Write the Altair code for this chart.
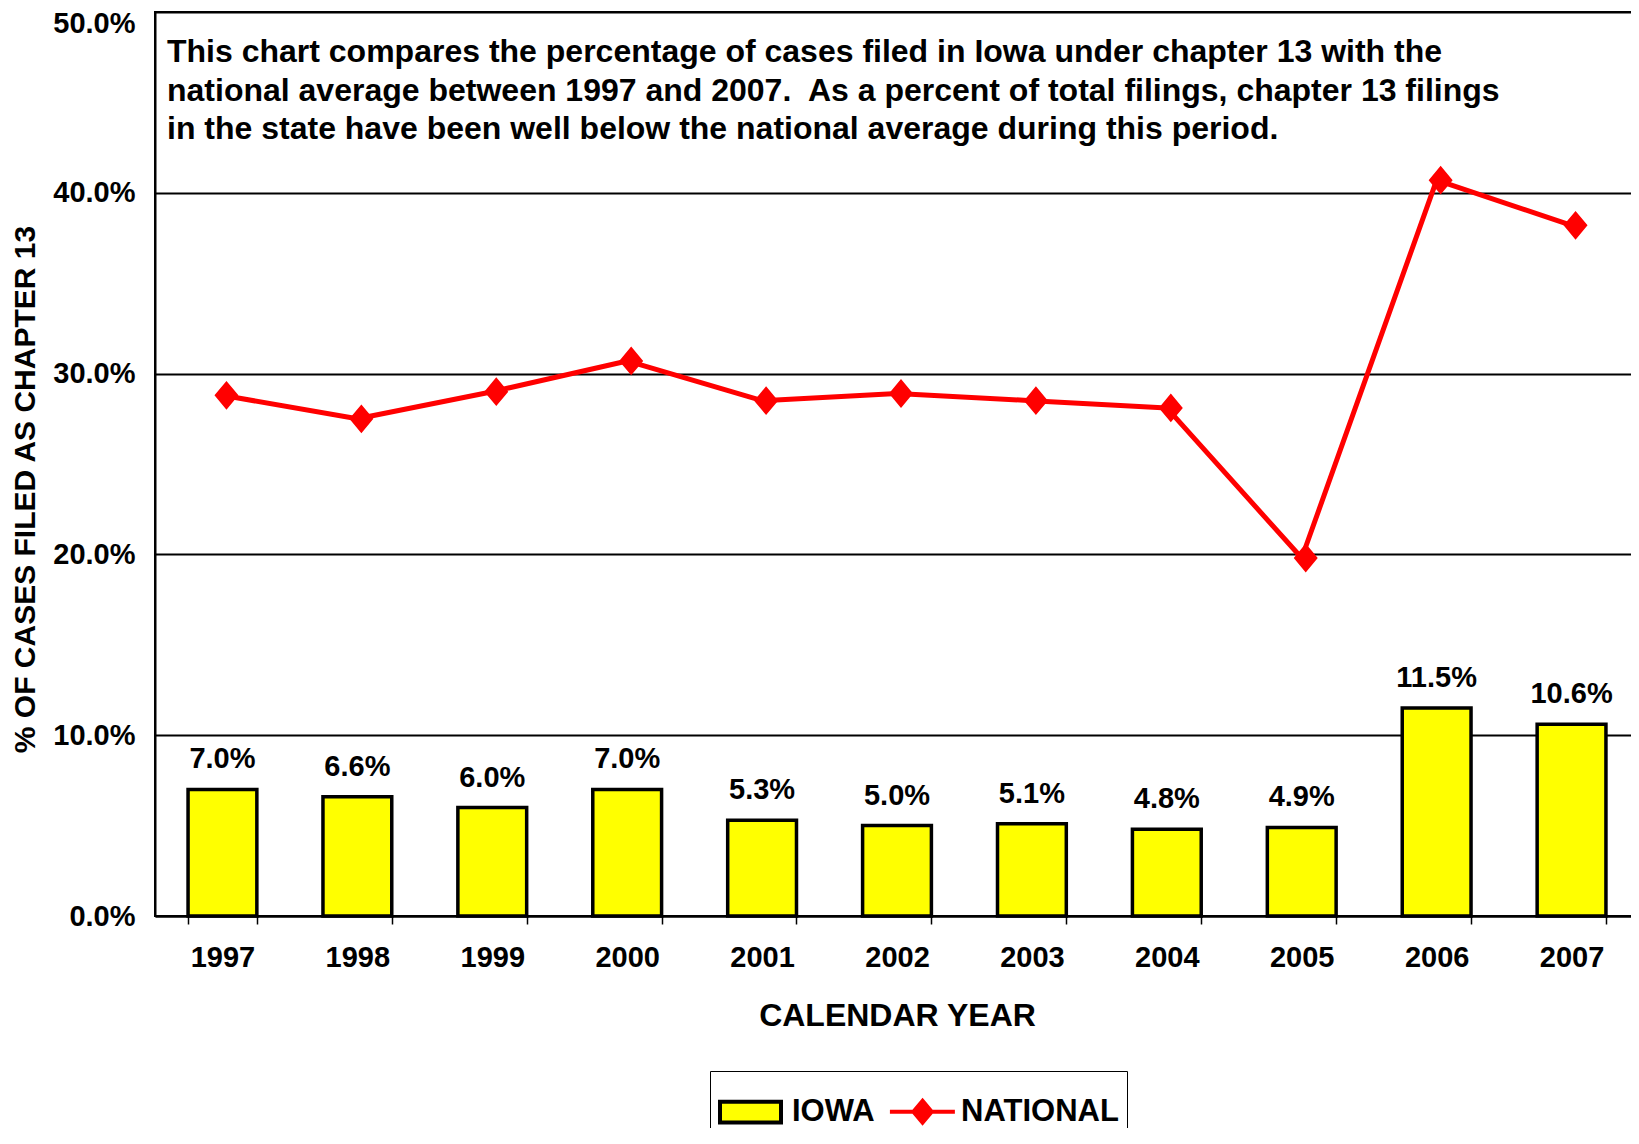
import altair as alt
import pandas as pd

YEARS = ["1997", "1998", "1999", "2000", "2001", "2002", "2003", "2004", "2005", "2006", "2007"]
IOWA = [7.0, 6.6, 6.0, 7.0, 5.3, 5.0, 5.1, 4.8, 4.9, 11.5, 10.6]
NATIONAL = [28.8, 27.5, 29.0, 30.7, 28.5, 28.9, 28.5, 28.1, 19.8, 40.7, 38.2]
SERIES = ["IOWA", "NATIONAL"]
FILL_COLORS = ["#FFFF00", "#FF0000"]
STROKE_COLORS = ["#000000", "#FF0000"]
SHAPES = ["M-1,-0.34H1V0.34H-1Z", "M-0.97,0H1.16M0.1,-0.36L0.4,0L0.1,0.36L-0.2,0Z"]
Y_TICKS = [0, 10, 20, 30, 40, 50]
NOTE_LINES = [
    "This chart compares the percentage of cases filed in Iowa under chapter 13 with the",
    "national average between 1997 and 2007.\u00a0 As a percent of total filings, chapter 13 filings",
    "in the state have been well below the national average during this period.",
]
X_TITLE = "CALENDAR YEAR"
Y_TITLE = "% OF CASES FILED AS CHAPTER 13"

FONT = "Liberation Sans"

rows = []
for yr, v in zip(YEARS, IOWA):
    rows.append({"year": yr, "series": "IOWA", "value": v})
for yr, v in zip(YEARS, NATIONAL):
    rows.append({"year": yr, "series": "NATIONAL", "value": v})
df = pd.DataFrame(rows)

x = alt.X(
    "year:N",
    sort=YEARS,
    scale=alt.Scale(paddingInner=0.49, paddingOuter=0.245),
    axis=alt.Axis(
        title=X_TITLE,
        labelAngle=0,
        tickBand="extent",
        tickSize=8,
        tickColor="black",
        tickWidth=1.5,
        domainColor="black",
        domainWidth=2,
        labelFontSize=29,
        labelPadding=19,
        titleFontSize=32,
        titlePadding=28,
    ),
)
y = alt.Y(
    "value:Q",
    scale=alt.Scale(domain=[0, 50], nice=False),
    axis=alt.Axis(
        values=Y_TICKS,
        labelExpr="format(datum.value, '.1f') + '%'",
        labelOffset=alt.condition("datum.value === 50", alt.value(11), alt.value(0)),
        grid=True,
        gridColor="black",
        gridWidth=2,
        ticks=False,
        domainColor="black",
        domainWidth=2,
        labelFontSize=29,
        labelPadding=20,
        title=Y_TITLE,
        titleFontSize=30,
        titleX=-130,
        titleY=477,
        titleBaseline="middle",
    ),
)

legend = alt.Legend(
    title=None,
    orient="none",
    legendX=555,
    legendY=1059,
    direction="horizontal",
    strokeColor="black",
    padding=8,
    labelFontSize=31,
    labelFont=FONT,
    labelFontWeight="bold",
    labelColor="black",
    labelOffset=9,
    labelLimit=400,
    columnPadding=6,
    symbolSize=3721,
    symbolStrokeWidth=4,
    symbolOpacity=1,
)

fill = alt.Fill("series:N", scale=alt.Scale(domain=SERIES, range=FILL_COLORS), legend=legend)
stroke = alt.Stroke("series:N", scale=alt.Scale(domain=SERIES, range=STROKE_COLORS), legend=legend)
shape = alt.Shape("series:N", scale=alt.Scale(domain=SERIES, range=SHAPES), legend=legend)

base = alt.Chart(df)

bars = base.transform_filter("datum.series === 'IOWA'").mark_bar(
    strokeWidth=3.5, opacity=1
).encode(x=x, y=y, fill=fill, stroke=stroke)

bar_labels = base.transform_filter("datum.series === 'IOWA'").transform_calculate(
    label="format(datum.value, '.1f') + '%'"
).mark_text(
    dy=-21, baseline="alphabetic", fontSize=29, fontWeight="bold", font=FONT, color="black"
).encode(x=x, y=y, text="label:N")

line = base.transform_filter("datum.series === 'NATIONAL'").mark_line(
    strokeWidth=5, strokeJoin="round"
).encode(x=x, y=y, stroke=stroke)

points = base.transform_filter("datum.series === 'NATIONAL'").mark_point(
    filled=True, size=6400, opacity=1, strokeWidth=0
).encode(x=x, y=y, fill=fill, shape=shape)

note = alt.Chart(pd.DataFrame({"k": [0]})).mark_text(
    text=NOTE_LINES,
    align="left",
    baseline="alphabetic",
    fontSize=32,
    fontWeight="bold",
    font=FONT,
    color="black",
    lineHeight=38.7,
).encode(x=alt.value(12), y=alt.value(50))

chart = (
    alt.layer(note, bars, bar_labels, line, points)
    .properties(
        width=1484,
        height=904,
        padding={"left": 147, "top": 4, "right": -8, "bottom": 212},
        autosize=alt.AutoSizeParams(type="none"),
    )
    .configure(font=FONT)
    .configure_view(stroke="black", strokeWidth=2)
    .configure_axis(
        labelFont=FONT,
        titleFont=FONT,
        labelFontWeight="bold",
        titleFontWeight="bold",
        labelColor="black",
        titleColor="black",
    )
)

chart.save("out.html", embed_options={"renderer": "svg", "actions": False})
